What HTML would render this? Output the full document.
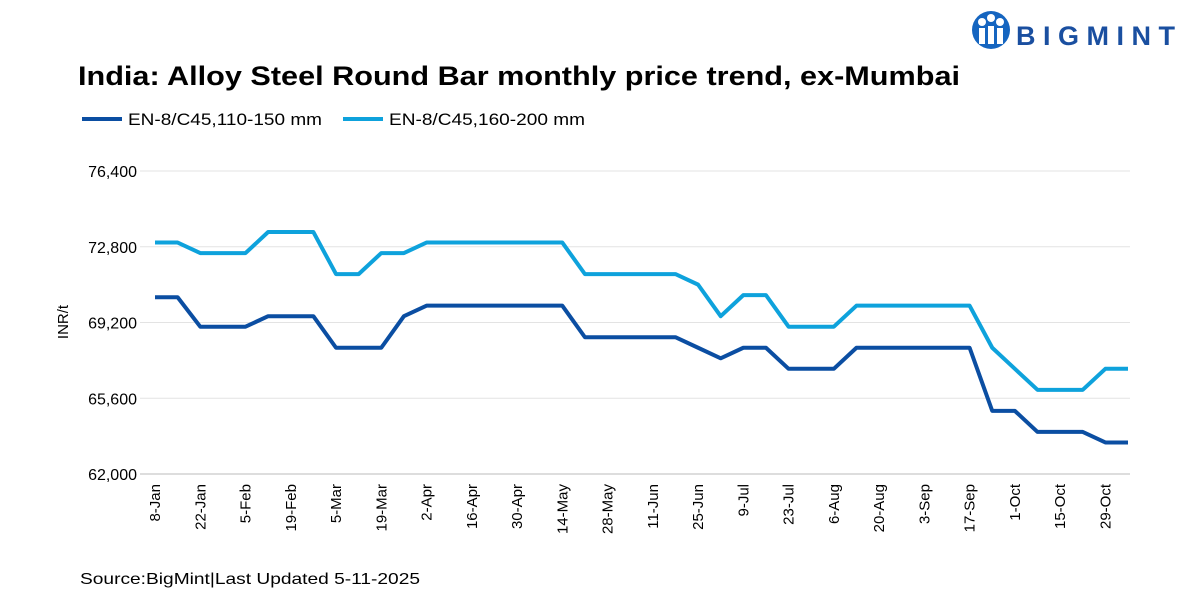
<!DOCTYPE html>
<html><head><meta charset="utf-8"><style>
body{margin:0;background:#fff;font-family:"Liberation Sans",sans-serif}
svg text{font-family:"Liberation Sans",sans-serif}
</style></head><body>
<svg id="c" width="1200" height="599">
<g>
<circle cx="991" cy="30" r="19" fill="#1565c0"/>
<circle cx="982" cy="22" r="4" fill="#fff"/><circle cx="1000" cy="22" r="4" fill="#fff"/><circle cx="991" cy="18" r="4" fill="#fff"/>
<rect x="979" y="28" width="6" height="16" fill="#fff"/><rect x="997" y="28" width="6" height="16" fill="#fff"/><rect x="988" y="26" width="6" height="18" fill="#fff"/>
<text x="1016" y="45" font-size="27" font-weight="bold" fill="#1a4fa0" textLength="159" lengthAdjust="spacing">BIGMINT</text>
</g>
<text x="78" y="85" font-size="27" font-weight="bold" fill="#000" textLength="882" lengthAdjust="spacingAndGlyphs">India: Alloy Steel Round Bar monthly price trend, ex-Mumbai</text>
<g>
<line x1="82" y1="119" x2="122" y2="119" stroke="#0b4ea2" stroke-width="4"/>
<text x="128" y="125" font-size="17" textLength="194" lengthAdjust="spacingAndGlyphs">EN-8/C45,110-150 mm</text>
<line x1="343" y1="119" x2="383" y2="119" stroke="#0ea2dc" stroke-width="4"/>
<text x="389" y="125" font-size="17" textLength="196" lengthAdjust="spacingAndGlyphs">EN-8/C45,160-200 mm</text>
</g>
<text transform="translate(68,322) rotate(-90)" text-anchor="middle" font-size="15">INR/t</text>
<text x="80" y="584" font-size="16" textLength="340" lengthAdjust="spacingAndGlyphs">Source:BigMint|Last Updated 5-11-2025</text>
<g id="grid"></g><g id="xl"></g><g id="lines"></g>
</svg>
<script>
const yTicks=[62000,65600,69200,72800,76400];
const xLabels=["8-Jan","22-Jan","5-Feb","19-Feb","5-Mar","19-Mar","2-Apr","16-Apr","30-Apr","14-May","28-May","11-Jun","25-Jun","9-Jul","23-Jul","6-Aug","20-Aug","3-Sep","17-Sep","1-Oct","15-Oct","29-Oct"];
const series110=[70400,70400,69000,69000,69000,69500,69500,69500,68000,68000,68000,69500,70000,70000,70000,70000,70000,70000,70000,68500,68500,68500,68500,68500,68000,67500,68000,68000,67000,67000,67000,68000,68000,68000,68000,68000,68000,65000,65000,64000,64000,64000,63500,63500];
const series160=[73000,73000,72500,72500,72500,73500,73500,73500,71500,71500,72500,72500,73000,73000,73000,73000,73000,73000,73000,71500,71500,71500,71500,71500,71000,69500,70500,70500,69000,69000,69000,70000,70000,70000,70000,70000,70000,68000,67000,66000,66000,66000,67000,67000];
const NS="http://www.w3.org/2000/svg";
const x0=155,x1=1128,yB=474,yT=171;
const X=i=>x0+(x1-x0)*i/(series110.length-1);
const Y=v=>yB-(v-62000)/(76400-62000)*(yB-yT);
const grid=document.getElementById('grid');
yTicks.forEach(t=>{
 const l=document.createElementNS(NS,'line');
 l.setAttribute('x1',140);l.setAttribute('x2',1130);l.setAttribute('y1',Y(t));l.setAttribute('y2',Y(t));
 l.setAttribute('stroke',t===62000?'#bbb':'#e3e3e3');l.setAttribute('stroke-width',1);
 
 
 grid.appendChild(l);
 const tx=document.createElementNS(NS,'text');
 tx.setAttribute('x',137);tx.setAttribute('y',Y(t)+6);tx.setAttribute('text-anchor','end');tx.setAttribute('font-size',16);
 tx.textContent=t.toLocaleString('en-US');
 
 
 grid.appendChild(tx);
});
const xl=document.getElementById('xl');
xLabels.forEach((s,k)=>{
 const tx=document.createElementNS(NS,'text');
 const x=X(k*2)+5;
 tx.setAttribute('transform',`translate(${x},484) rotate(-90)`);
 tx.setAttribute('text-anchor','end');tx.setAttribute('font-size',15);
 tx.textContent=s;
 
 
 xl.appendChild(tx);
});
const lg=document.getElementById('lines');
[[series160,'#0ea2dc','line-160-200'],[series110,'#0b4ea2','line-110-150']].forEach(([d,c,n])=>{
 const p=document.createElementNS(NS,'polyline');
 p.setAttribute('points',d.map((v,i)=>X(i)+','+Y(v)).join(' '));
 p.setAttribute('fill','none');p.setAttribute('stroke',c);p.setAttribute('stroke-width',4);p.setAttribute('stroke-linejoin','round');
 
 
 lg.appendChild(p);
});
</script>
</body></html>
